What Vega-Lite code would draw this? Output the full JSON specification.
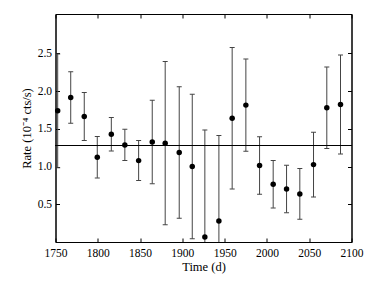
{
  "$schema": "https://vega.github.io/schema/vega-lite/v6.json",
  "width": 296,
  "height": 228,
  "autosize": "none",
  "padding": {"left": 55.5, "top": 14, "right": 30.5, "bottom": 44},
  "config": {
    "view": {"stroke": "#000", "strokeWidth": 1},
    "font": "Liberation Serif",
    "axis": {
      "grid": false,
      "domainColor": "#000",
      "tickColor": "#000",
      "tickSize": -4,
      "labelFlush": false,
      "labelFont": "Liberation Serif",
      "labelFontSize": 11.5,
      "labelColor": "#000",
      "titleFont": "Liberation Serif",
      "titleFontSize": 12.5,
      "titleFontWeight": "normal",
      "titleColor": "#000"
    }
  },
  "data": {
    "values": [
      {"t": 1752.6, "rate": 1.737, "lo": 0.984, "hi": 2.49},
      {"t": 1768.0, "rate": 1.914, "lo": 1.573, "hi": 2.255},
      {"t": 1784.0, "rate": 1.662, "lo": 1.344, "hi": 1.98},
      {"t": 1799.4, "rate": 1.123, "lo": 0.849, "hi": 1.397},
      {"t": 1816.0, "rate": 1.428, "lo": 1.207, "hi": 1.649},
      {"t": 1832.0, "rate": 1.286, "lo": 1.078, "hi": 1.494},
      {"t": 1848.3, "rate": 1.078, "lo": 0.813, "hi": 1.343},
      {"t": 1864.4, "rate": 1.326, "lo": 0.773, "hi": 1.879},
      {"t": 1879.7, "rate": 1.309, "lo": 0.227, "hi": 2.391},
      {"t": 1896.3, "rate": 1.185, "lo": 0.314, "hi": 2.056},
      {"t": 1911.7, "rate": 1.0, "lo": 0.042, "hi": 1.958},
      {"t": 1926.6, "rate": 0.066, "lo": -1.353, "hi": 1.485},
      {"t": 1943.2, "rate": 0.278, "lo": -0.854, "hi": 1.41},
      {"t": 1958.9, "rate": 1.64, "lo": 0.703, "hi": 2.577},
      {"t": 1975.1, "rate": 1.813, "lo": 1.203, "hi": 2.423},
      {"t": 1991.3, "rate": 1.012, "lo": 0.631, "hi": 1.393},
      {"t": 2007.4, "rate": 0.765, "lo": 0.452, "hi": 1.078},
      {"t": 2023.2, "rate": 0.703, "lo": 0.389, "hi": 1.017},
      {"t": 2038.9, "rate": 0.637, "lo": 0.302, "hi": 0.972},
      {"t": 2055.1, "rate": 1.025, "lo": 0.595, "hi": 1.455},
      {"t": 2070.8, "rate": 1.777, "lo": 1.237, "hi": 2.317},
      {"t": 2087.0, "rate": 1.821, "lo": 1.166, "hi": 2.476}
    ]
  },
  "layer": [
    {
      "mark": {"type": "rule", "clip": true, "color": "#444", "strokeWidth": 1},
      "encoding": {
        "x": {"field": "t", "type": "quantitative", "scale": {"domain": [1750, 2100], "nice": false, "zero": false, "padding": 0},
              "axis": {"orient": "bottom", "values": [1750, 1800, 1850, 1900, 1950, 2000, 2050, 2100], "format": "d", "title": "Time (d)", "labelPadding": 9, "titlePadding": 2}},
        "y": {"field": "lo", "type": "quantitative", "scale": {"domain": [0, 3.02], "nice": false, "padding": 0},
              "axis": {"orient": "left", "values": [0.5, 1.0, 1.5, 2.0, 2.5], "format": ".1f", "title": "Rate (10⁻⁴ cts/s)", "labelPadding": 8, "titlePadding": 4}},
        "y2": {"field": "hi"}
      }
    },
    {
      "mark": {"type": "tick", "orient": "horizontal", "size": 5, "thickness": 1, "color": "#444", "clip": true, "opacity": 1},
      "encoding": {
        "x": {"field": "t", "type": "quantitative", "axis": null},
        "y": {"field": "hi", "type": "quantitative", "axis": null}
      }
    },
    {
      "mark": {"type": "tick", "orient": "horizontal", "size": 5, "thickness": 1, "color": "#444", "clip": true, "opacity": 1},
      "encoding": {
        "x": {"field": "t", "type": "quantitative", "axis": null},
        "y": {"field": "lo", "type": "quantitative", "axis": null}
      }
    },
    {
      "mark": {"type": "point", "filled": true, "size": 30, "color": "#000", "opacity": 1},
      "encoding": {
        "x": {"field": "t", "type": "quantitative", "axis": null},
        "y": {"field": "rate", "type": "quantitative", "axis": null}
      }
    },
    {
      "mark": {"type": "rule", "color": "#000", "strokeWidth": 1},
      "encoding": {
        "y": {"datum": 1.278, "type": "quantitative", "axis": null}
      }
    },
    {
      "mark": {"type": "point", "opacity": 0},
      "encoding": {
        "x": {"field": "t", "type": "quantitative",
              "axis": {"orient": "top", "values": [1750, 1800, 1850, 1900, 1950, 2000, 2050, 2100], "labels": false, "title": null}},
        "y": {"field": "rate", "type": "quantitative",
              "axis": {"orient": "right", "values": [0.5, 1.0, 1.5, 2.0, 2.5], "labels": false, "title": null}}
      }
    }
  ],
  "resolve": {"axis": {"x": "independent", "y": "independent"}}
}
